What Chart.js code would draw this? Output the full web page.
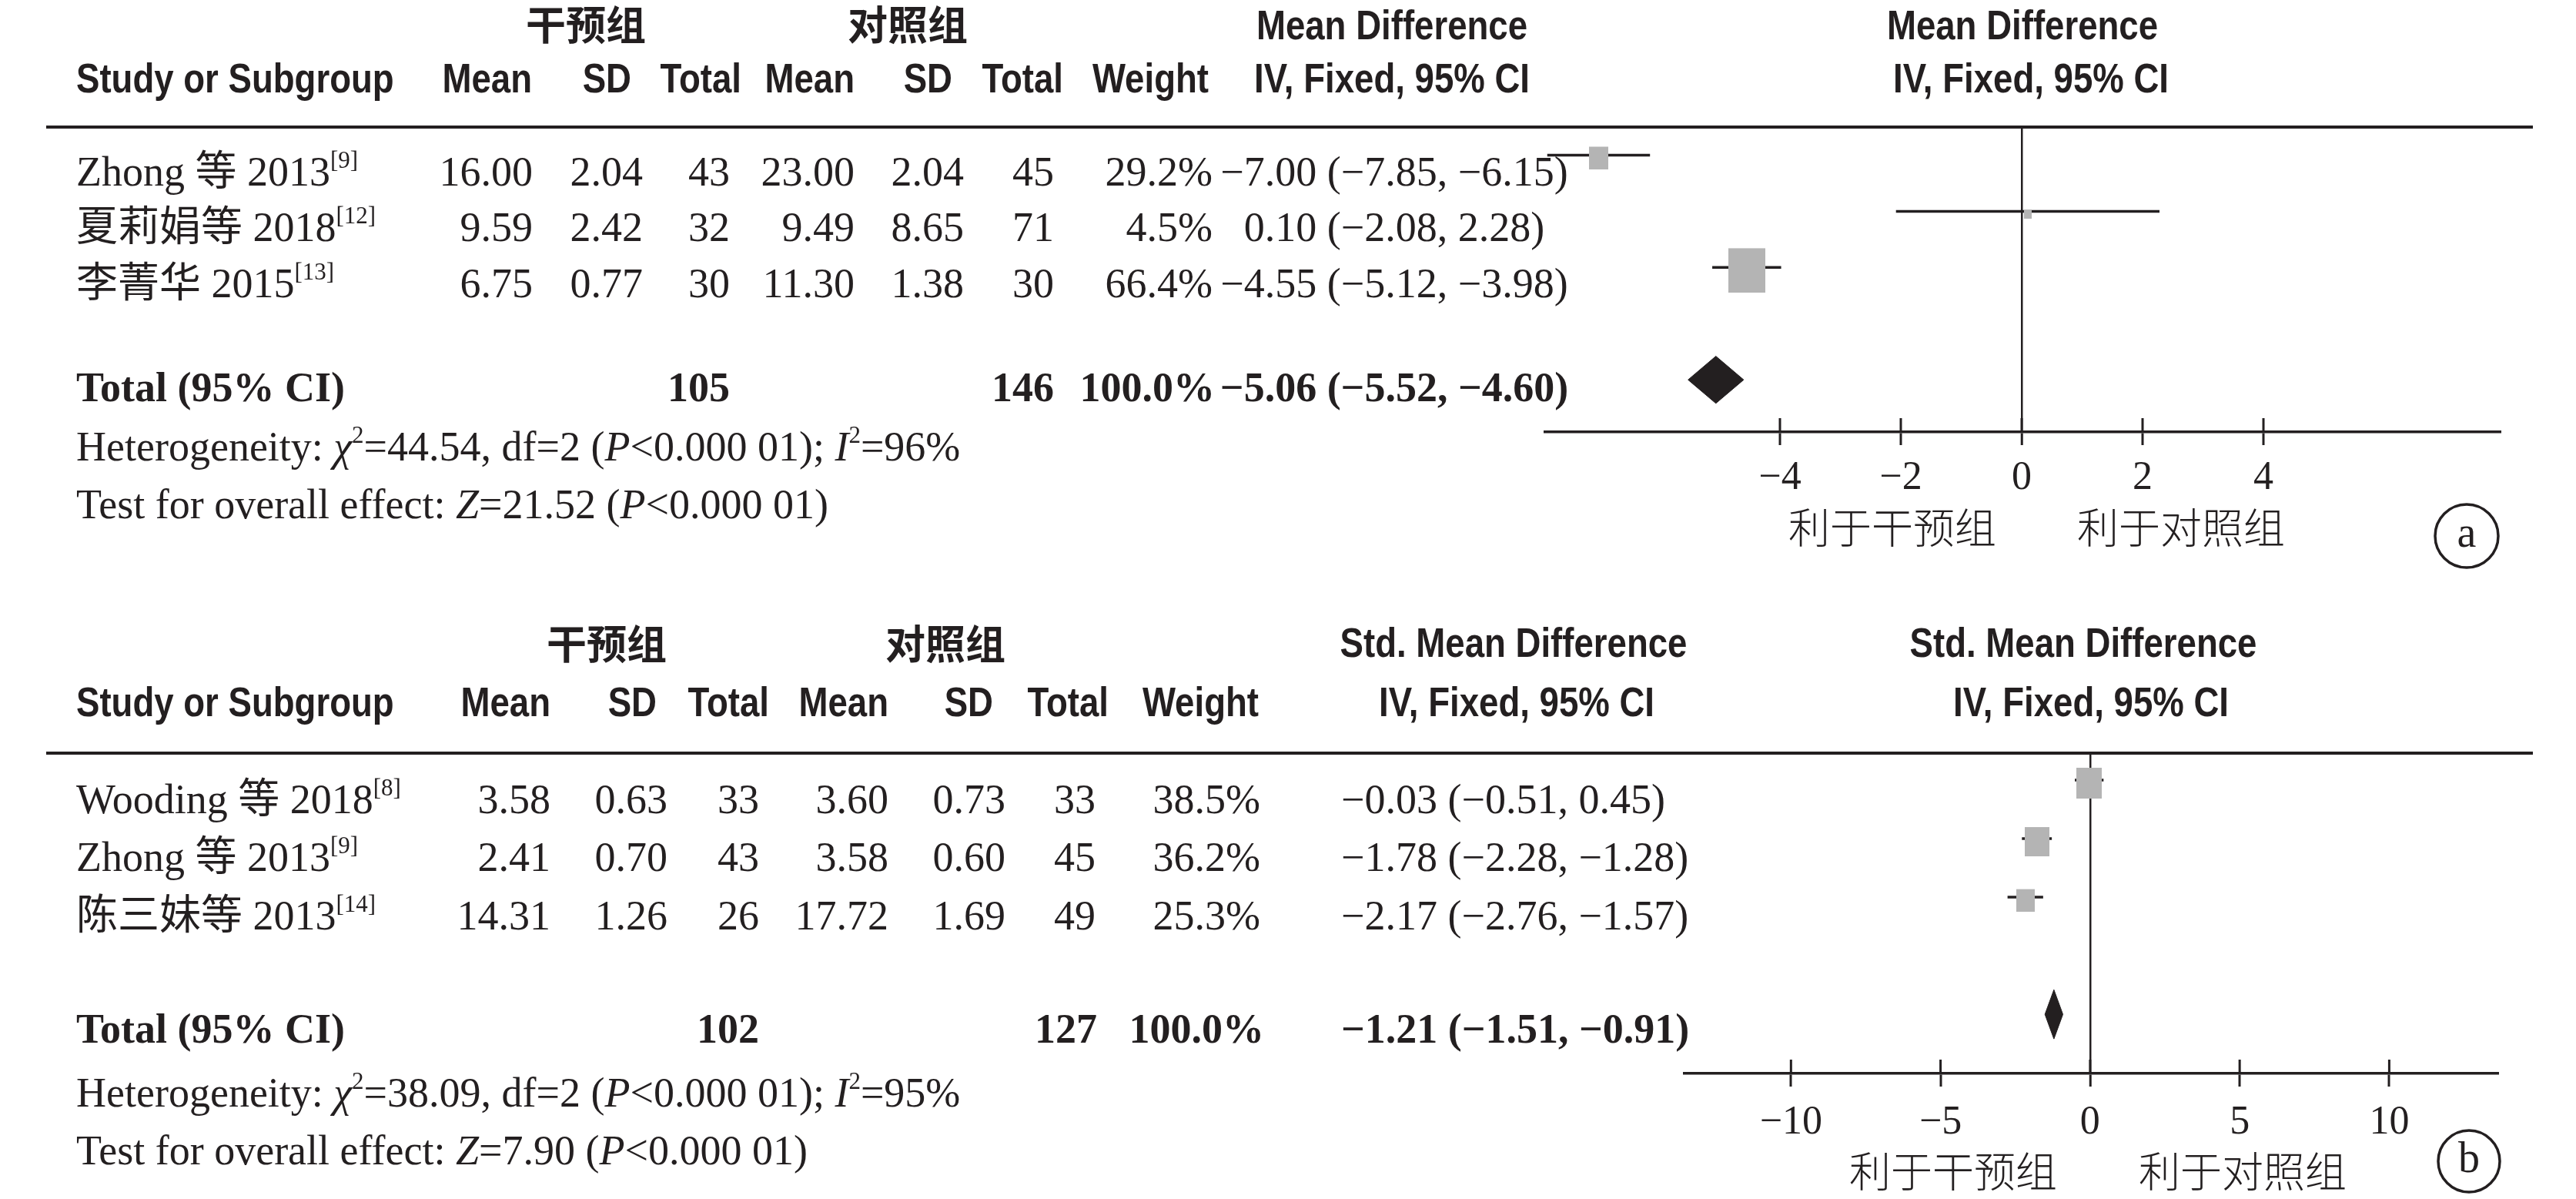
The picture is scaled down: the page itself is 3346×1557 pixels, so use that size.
<!DOCTYPE html>
<html><head><meta charset="utf-8">
<script src="https://cdn.jsdelivr.net/npm/chart.js@4.4.1/dist/chart.umd.min.js"></script>
<style>
html,body{margin:0;padding:0;background:#fff;}
#wrap{position:relative;width:3346px;height:1557px;overflow:hidden;background:#fff;}
.box{position:absolute;left:0;width:3346px;}
</style></head><body>
<div id="wrap">
<div class="box" style="top:0;height:778px"><canvas id="ca"></canvas></div>
<div class="box" style="top:778px;height:779px"><canvas id="cb"></canvas></div>
</div>
<script>
// ---------- Panel a data ----------
const studiesA = ['Zhong 等 2013', '夏莉娟等 2018', '李菁华 2015'];
const refsA = ['[9]', '[12]', '[13]'];
const expMeanA = [16.00, 9.59, 6.75];
const expSdA = [2.04, 2.42, 0.77];
const expNA = [43, 32, 30];
const ctlMeanA = [23.00, 9.49, 11.30];
const ctlSdA = [2.04, 8.65, 1.38];
const ctlNA = [45, 71, 30];
const weightA = [29.2, 4.5, 66.4];
const estA = [-7.00, 0.10, -4.55];
const lowA = [-7.85, -2.08, -5.12];
const highA = [-6.15, 2.28, -3.98];
const totalNA = [105, 146];
const totalCiA = [-5.06, -5.52, -4.60];
const hetA = ['44.54', '2', '96'];
const zA = '21.52';
const ticksA = [-4, -2, 0, 2, 4];

// ---------- Panel b data ----------
const studiesB = ['Wooding 等 2018', 'Zhong 等 2013', '陈三妹等 2013'];
const refsB = ['[8]', '[9]', '[14]'];
const expMeanB = [3.58, 2.41, 14.31];
const expSdB = [0.63, 0.70, 1.26];
const expNB = [33, 43, 26];
const ctlMeanB = [3.60, 3.58, 17.72];
const ctlSdB = [0.73, 0.60, 1.69];
const ctlNB = [33, 45, 49];
const weightB = [38.5, 36.2, 25.3];
const estB = [-0.03, -1.78, -2.17];
const lowB = [-0.51, -2.28, -2.76];
const highB = [0.45, -1.28, -1.57];
const totalNB = [102, 127];
const totalCiB = [-1.21, -1.51, -0.91];
const hetB = ['38.09', '2', '95'];
const zB = '7.90';
const ticksB = [-10, -5, 0, 5, 10];

// ---------- styles ----------
const INK = '#231f20';
const GRAY = '#b4b4b4';
const SERIF = '"Liberation Serif", "Noto Sans CJK SC", serif';
const SANS = '"Liberation Sans", Arial, sans-serif';
const CJK = '"Noto Sans CJK SC", sans-serif';
const FS = 54;

const fmt2 = v => (v < 0 ? '\u2212' : '') + Math.abs(v).toFixed(2);
const fmtTick = v => (v < 0 ? '\u2212' : '') + Math.abs(v);
const ciText = (e, l, h) => `${fmt2(e)} (${fmt2(l)}, ${fmt2(h)})`;

const P_A = {studies: studiesA, refs: refsA, em: expMeanA, es: expSdA, en: expNA, cm: ctlMeanA, cs: ctlSdA, cn: ctlNA,
  w: weightA, est: estA, lo: lowA, hi: highA, tn: totalNA, tci: totalCiA, het: hetA, z: zA, ticks: ticksA};
const P_B = {studies: studiesB, refs: refsB, em: expMeanB, es: expSdB, en: expNB, cm: ctlMeanB, cs: ctlSdB, cn: ctlNB,
  w: weightB, est: estB, lo: lowB, hi: highB, tn: totalNB, tci: totalCiB, het: hetB, z: zB, ticks: ticksB};

const L_A = {top: 0, h: 778, pad: {left: 2007, right: 97, top: 165, bottom: 117}, xmin: -7.885, xmax: 7.936, ymin: -0.5, ymax: 4.93,
  tickPad: 12,
  cjkY: 32, cjkX: [761, 1179], h1Y: 51, h2Y: 120,
  hdrRight: [691, 820, 963, 1110, 1237, 1381, 1570],
  valRight: [692, 835, 948, 1110, 1252, 1369, 1575],
  totRight: [948, 1369, 1578],
  ciX: 1811, ciAlign: 'center', ciHdrX: [1808, 1808], ciHdr: 'Mean Difference',
  plotHdrX: [2627, 2638],
  rowY: [241, 313, 386], totY: 521, hetY: 598, testY: 673,
  ruleY: 165, ruleX: [60, 3290], favY: 685, favX: [2458, 2833], circ: [3204, 696, 41], letter: 'a', sq: 0.62};
const L_B = {top: 778, h: 779, pad: {left: 2188, right: 100, top: 200, bottom: 63}, xmin: -13.56, xmax: 13.67, ymin: -0.46, ymax: 5.01,
  tickPad: 16,
  cjkY: 836, cjkX: [788, 1228], h1Y: 853, h2Y: 930,
  hdrRight: [715, 853, 999, 1154, 1290, 1440, 1635],
  valRight: [715, 867, 986, 1154, 1306, 1423, 1637],
  totRight: [986, 1425, 1642],
  ciX: 1742, ciAlign: 'left', ciHdrX: [1966, 1970], ciHdr: 'Std. Mean Difference',
  plotHdrX: [2706, 2716],
  rowY: [1056, 1131, 1207], totY: 1354, hetY: 1437, testY: 1512,
  ruleY: 978, ruleX: [60, 3290], favY: 1521, favX: [2537, 2913], circ: [3207, 1508, 40], letter: 'b', sq: 0.68};

function text(ctx, s, x, y, font, align, sx, base) {
  ctx.save();
  ctx.font = font; ctx.fillStyle = INK; ctx.textAlign = align || 'left'; ctx.textBaseline = base || 'alphabetic';
  ctx.translate(x, y); if (sx) ctx.scale(sx, 1);
  ctx.fillText(s, 0, 0);
  ctx.restore();
}
function rich(ctx, segs, x, y, align, bold) {
  const b = bold ? 'bold ' : '';
  const fontFor = st => st === 'i' ? `italic ${b}${FS}px ${SERIF}` : st === 's' ? `${b}${Math.round(FS * 0.58)}px ${SERIF}` : `${b}${FS}px ${SERIF}`;
  ctx.save();
  ctx.fillStyle = INK; ctx.textBaseline = 'alphabetic'; ctx.textAlign = 'left';
  let w = 0;
  const ws = segs.map(([t, st]) => { ctx.font = fontFor(st); const m = ctx.measureText(t).width; w += m; return m; });
  let cx = align === 'right' ? x - w : align === 'center' ? x - w / 2 : x;
  segs.forEach(([t, st], k) => { ctx.font = fontFor(st); ctx.fillText(t, cx, st === 's' ? y - FS * 0.42 : y); cx += ws[k]; });
  ctx.restore();
}
const HDR = `bold 53px ${SANS}`;
const HSX = 0.86;

function tablePlugin(L, P) {
  return {
    id: 'table' + L.letter,
    afterDraw(chart) {
      const ctx = chart.ctx;
      ctx.save();
      ctx.translate(0, -L.top);
      // group headers
      text(ctx, '干预组', L.cjkX[0], L.cjkY, `bold 52px ${CJK}`, 'center', 0, 'middle');
      text(ctx, '对照组', L.cjkX[1], L.cjkY, `bold 52px ${CJK}`, 'center', 0, 'middle');
      text(ctx, L.ciHdr, L.ciHdrX[0], L.h1Y, HDR, 'center', HSX);
      text(ctx, L.ciHdr, L.plotHdrX[0], L.h1Y, HDR, 'center', HSX);
      text(ctx, 'Study or Subgroup', 99, L.h2Y, HDR, 'left', HSX);
      ['Mean', 'SD', 'Total', 'Mean', 'SD', 'Total', 'Weight'].forEach((h, k) => text(ctx, h, L.hdrRight[k], L.h2Y, HDR, 'right', HSX));
      text(ctx, 'IV, Fixed, 95% CI', L.ciHdrX[1], L.h2Y, HDR, 'center', HSX);
      text(ctx, 'IV, Fixed, 95% CI', L.plotHdrX[1], L.h2Y, HDR, 'center', HSX);
      // rule
      ctx.fillStyle = INK;
      ctx.fillRect(L.ruleX[0], L.ruleY - 2, L.ruleX[1] - L.ruleX[0], 4);
      // study rows
      const F = `${FS}px ${SERIF}`;
      P.studies.forEach((s, i) => {
        const y = L.rowY[i];
        rich(ctx, [[s, ''], [P.refs[i], 's']], 99, y, 'left');
        const vals = [fmt2(P.em[i]), fmt2(P.es[i]), String(P.en[i]), fmt2(P.cm[i]), fmt2(P.cs[i]), String(P.cn[i]), P.w[i].toFixed(1) + '%'];
        vals.forEach((v, k) => text(ctx, v, L.valRight[k], y, F, 'right'));
        text(ctx, ciText(P.est[i], P.lo[i], P.hi[i]), L.ciX, y, F, L.ciAlign);
      });
      // total row
      const FB = `bold ${FS}px ${SERIF}`;
      text(ctx, 'Total (95% CI)', 99, L.totY, FB, 'left');
      text(ctx, String(P.tn[0]), L.totRight[0], L.totY, FB, 'right');
      text(ctx, String(P.tn[1]), L.totRight[1], L.totY, FB, 'right');
      text(ctx, '100.0%', L.totRight[2], L.totY, FB, 'right');
      text(ctx, ciText(P.tci[0], P.tci[1], P.tci[2]), L.ciX, L.totY, FB, L.ciAlign);
      // heterogeneity / test
      rich(ctx, [['Heterogeneity: ', ''], ['\u03c7', 'i'], ['2', 's'], [`=${P.het[0]}, df=${P.het[1]} (`, ''], ['P', 'i'],
        ['<0.000 01); ', ''], ['I', 'i'], ['2', 's'], [`=${P.het[2]}%`, '']], 99, L.hetY, 'left');
      rich(ctx, [['Test for overall effect: ', ''], ['Z', 'i'], [`=${P.z} (`, ''], ['P', 'i'], ['<0.000 01)', '']], 99, L.testY, 'left');
      // favours labels
      text(ctx, '利于干预组', L.favX[0], L.favY, `300 54px ${CJK}`, 'center', 0, 'middle');
      text(ctx, '利于对照组', L.favX[1], L.favY, `300 54px ${CJK}`, 'center', 0, 'middle');
      // panel letter
      ctx.beginPath(); ctx.arc(L.circ[0], L.circ[1], L.circ[2], 0, Math.PI * 2);
      ctx.lineWidth = 3.5; ctx.strokeStyle = INK; ctx.stroke();
      text(ctx, L.letter, L.circ[0], L.circ[1] + 14, `56px ${SERIF}`, 'center');
      ctx.restore();
      // upper halves of axis ticks
      const xs = chart.scales.x, bottom = chart.chartArea.bottom;
      ctx.save(); ctx.strokeStyle = INK; ctx.lineWidth = 3;
      P.ticks.forEach(v => { const px = xs.getPixelForValue(v); ctx.beginPath(); ctx.moveTo(px, bottom - 18); ctx.lineTo(px, bottom); ctx.stroke(); });
      ctx.restore();
    }
  };
}

const rectCache = {};
function rectImg(w, h) {
  const key = w + 'x' + h;
  if (rectCache[key]) return rectCache[key];
  const c = document.createElement('canvas');
  c.width = Math.round(w); c.height = Math.round(h) + 8;
  const g = c.getContext('2d');
  g.fillStyle = GRAY; g.fillRect(0, 8, c.width, Math.round(h));
  rectCache[key] = c;
  return c;
}

function makeChart(id, L, P) {
  const datasets = [];
  P.est.forEach((e, i) => {
    datasets.push({data: [{x: P.lo[i], y: i}, {x: P.hi[i], y: i}], showLine: true, borderColor: INK, borderWidth: 3.5,
      pointRadius: 0, fill: false, order: 2});
  });
  datasets.push({data: P.est.map((e, i) => ({x: e, y: i})), showLine: false, order: 1,
    pointStyle: c => { const w = 7 + L.sq * P.w[c.dataIndex]; return rectImg(w, w * 1.2); },
    pointRadius: 10, borderWidth: 0});
  const dy = 4, dh = 0.42;
  datasets.push({data: [{x: P.tci[1], y: dy}, {x: P.tci[0], y: dy - dh}, {x: P.tci[2], y: dy}], showLine: true,
    borderColor: INK, borderWidth: 1, backgroundColor: INK, fill: '+1', pointRadius: 0, tension: 0, order: 0});
  datasets.push({data: [{x: P.tci[1], y: dy}, {x: P.tci[0], y: dy + dh}, {x: P.tci[2], y: dy}], showLine: true,
    borderColor: INK, borderWidth: 1, backgroundColor: INK, fill: false, pointRadius: 0, tension: 0, order: 0});

  return new Chart(document.getElementById(id), {
    type: 'scatter',
    data: {datasets},
    options: {
      responsive: true, maintainAspectRatio: false, devicePixelRatio: 1, animation: false, events: [],
      layout: {padding: L.pad},
      plugins: {legend: {display: false}, tooltip: {enabled: false}},
      scales: {
        x: {
          type: 'linear', position: 'bottom', min: L.xmin, max: L.xmax,
          afterBuildTicks: s => { s.ticks = P.ticks.map(v => ({value: v})); },
          afterFit: s => { s.height = 100; },
          grid: {
            drawOnChartArea: true, drawTicks: true, tickLength: 17, tickColor: INK, tickWidth: 3,
            color: c => (c.tick && c.tick.value === 0) ? INK : 'rgba(0,0,0,0)',
            lineWidth: c => (c.tick && c.tick.value === 0) ? 2.5 : 0
          },
          border: {display: true, color: INK, width: 3.5},
          ticks: {color: INK, font: {family: SERIF, size: 52}, padding: L.tickPad, maxRotation: 0, autoSkip: false,
            callback: v => fmtTick(v)}
        },
        y: {type: 'linear', display: false, min: L.ymin, max: L.ymax, reverse: true}
      }
    },
    plugins: [tablePlugin(L, P)]
  });
}

makeChart('ca', L_A, P_A);
makeChart('cb', L_B, P_B);
</script>
</body></html>
